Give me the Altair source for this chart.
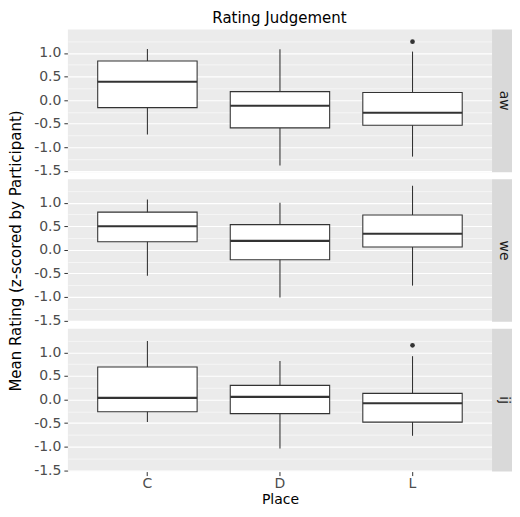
import altair as alt
import pandas as pd

# ---- data ----
tasks = ["aw", "aw", "aw", "we", "we", "we", "ij", "ij", "ij"]
places = ["C", "D", "L", "C", "D", "L", "C", "D", "L"]
lower = [-0.73, -1.39, -1.20, -0.55, -1.01, -0.76, -0.48, -1.04, -0.77]
q1 = [-0.16, -0.59, -0.535, 0.17, -0.21, 0.06, -0.26, -0.30, -0.48]
median = [0.39, -0.12, -0.27, 0.50, 0.19, 0.34, 0.035, 0.055, -0.08]
q3 = [0.83, 0.18, 0.16, 0.80, 0.535, 0.74, 0.69, 0.30, 0.13]
upper = [1.085, 1.08, 1.03, 1.07, 1.00, 1.36, 1.24, 0.82, 0.92]
outlier = [None, None, 1.24, None, None, None, None, None, 1.15]
task_order = ["aw", "we", "ij"]
y_ticks = [-1.5, -1.25, -1.0, -0.75, -0.5, -0.25, 0.0, 0.25, 0.5, 0.75, 1.0, 1.25]

df = pd.DataFrame({
    "task": tasks, "place": places, "lower": lower, "q1": q1,
    "median": median, "q3": q3, "upper": upper, "outlier": outlier,
})

W, H = 425, 143
STRIP = 20
FONT = "DejaVu Sans"
DARK = "#333333"

minor_test = "datum.value % 0.5 != 0"
y_scale = alt.Scale(domain=[-1.53, 1.50], nice=False, zero=False)
y_axis = alt.Axis(
    values=y_ticks,
    title=None,
    labelExpr="datum.value % 0.5 == 0 ? (datum.value < 0 ? '-' : '') + format(abs(datum.value), '.1f') : ''",
    labelOverlap=False,
    labelColor="#4D4D4D", labelFontSize=14, labelFont=FONT, labelPadding=3,
    tickColor=DARK, tickSize=4,
    tickOpacity={"condition": {"test": minor_test, "value": 0}, "value": 1},
    gridColor="white",
    gridWidth={"condition": {"test": minor_test, "value": 0.55}, "value": 1.1},
    domain=False,
)
x_enc = alt.X(
    "place:N",
    scale=alt.Scale(paddingInner=0.25, paddingOuter=0.225),
    axis=alt.Axis(
        title="Place", labelAngle=0, bandPosition=0.5,
        labelColor="#4D4D4D", labelFontSize=14, labelFont=FONT, labelPadding=1,
        tickColor=DARK, tickSize=4, gridColor="white", gridWidth=1.1,
        domain=False, titleFontSize=14, titleFont=FONT, titleColor="black",
        titleFontWeight="normal", titlePadding=2,
    ),
)

base = alt.Chart().encode(x=x_enc)

whisker = base.mark_rule(color=DARK, strokeWidth=1.07).encode(
    y=alt.Y("lower:Q", scale=y_scale, axis=y_axis), y2="upper:Q"
)
box = base.mark_bar(fill="white", stroke=DARK, strokeWidth=1.07).encode(
    y=alt.Y("q1:Q", scale=y_scale, axis=y_axis), y2="q3:Q"
)
med = base.mark_tick(color=DARK, thickness=2.1, size=99.6, opacity=1).encode(
    y=alt.Y("median:Q", scale=y_scale, axis=y_axis)
)
outl = base.mark_point(filled=True, color=DARK, size=22, opacity=1).encode(
    y=alt.Y("outlier:Q", scale=y_scale, axis=y_axis)
)
strip_rect = alt.Chart().mark_rect(color="#D9D9D9").encode(
    x=alt.value(W), x2=alt.value(W + STRIP), y=alt.value(0), y2=alt.value(H)
).transform_filter("datum.place == 'C'")
strip_text = alt.Chart().mark_text(
    angle=90, fontSize=14, font=FONT, color="#1A1A1A", align="center", baseline="middle"
).encode(
    x=alt.value(W + 12), y=alt.value(H / 2), text="task:N"
).transform_filter("datum.place == 'C'")

panel = alt.layer(whisker, box, med, outl, strip_rect, strip_text).properties(width=W, height=H)

chart = panel.facet(
    row=alt.Row(
        "task:N", sort=task_order,
        header=alt.Header(
            labels=False, title="Mean Rating (z-scored by Participant)",
            titleFontSize=15, titleFont=FONT, titleFontWeight="normal",
            titleColor="black", titlePadding=-1,
        ),
    ),
    data=df,
    spacing=7,
).properties(
    title=alt.TitleParams(
        "Rating Judgement", anchor="middle", fontSize=15, font=FONT,
        fontWeight="normal", color="black", offset=3, dx=19,
    ),
    padding={"left": 0, "top": 3, "right": 0, "bottom": 0},
).configure(
    font=FONT
).configure_view(
    fill="#EBEBEB", strokeWidth=0
)

chart.save("out.html", embed_options={"renderer": "svg", "actions": False})
